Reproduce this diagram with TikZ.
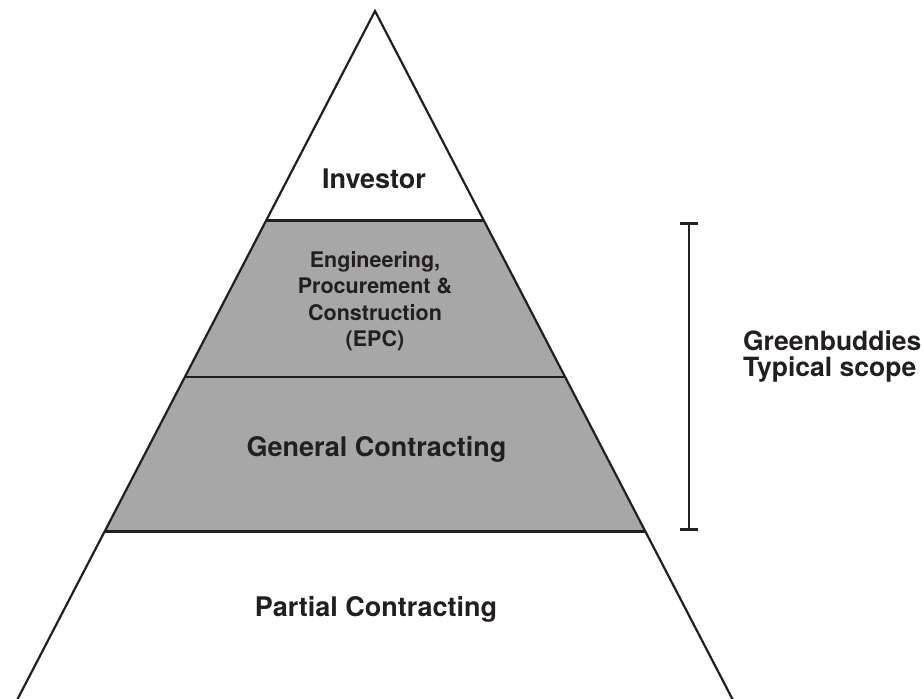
\documentclass[tikz,border=0pt]{standalone}
\usepackage{fontspec}
\setmainfont{TeX Gyre Heros}
\usepackage{xcolor}
\usetikzlibrary{calc}

\definecolor{ink}{HTML}{231F20}
\definecolor{band}{HTML}{A7A7A7}

\begin{document}
\begin{tikzpicture}[x=1pt, y=-1pt, line width=2.2pt, draw=ink]
		\useasboundingbox (0,0) rectangle (924,699);
		\clip (0,0) rectangle (924,699);

		\coordinate (T) at (375,11);
		\coordinate (BL) at (15,704);
		\coordinate (BR) at (735,704);

		% band edges on both sides
		\foreach \n/\f in {1/0.3022, 2/0.5278, 3/0.7512} {
				\coordinate (L\n) at ($(T)!\f!(BL)$);
				\coordinate (R\n) at ($(T)!\f!(BR)$);
			}

		\fill[band] (L1) -- (R1) -- (R3) -- (L3) -- cycle;
		\draw[line join=miter] (BL) -- (T) -- (BR);
		\foreach \n in {1,2,3} {
				\draw (L\n) -- (R\n);
			}

		\node[
			inner sep=0, anchor=base, text=ink,
			font=\fontsize{27}{30}\selectfont\bfseries
		] (I) at (374,188.3) {Investor};
		\node[
			inner sep=0, align=center, text=ink,
			font=\fontsize{21.5}{26.5}\selectfont\bfseries
		] (E) at (375,301) {Engineering,\\Procurement \&\\Construction\\(EPC)};
		\node[
			inner sep=0, anchor=base, text=ink,
			font=\fontsize{27}{30}\selectfont\bfseries
		] (G) at (376.5,456.7) {General Contracting};
		\node[
			inner sep=0, anchor=base, text=ink,
			font=\fontsize{27}{30}\selectfont\bfseries
		] (P) at (376,616.7) {Partial Contracting};

		% scope bracket
		\coordinate (S1) at (689,223.3);
		\coordinate (S2) at (689,529.3);
		\draw (S1) -- (S2);
		\draw[line width=3.2pt] ([xshift=-9]S1) -- ([xshift=9]S1);
		\draw[line width=3.2pt] ([xshift=-9]S2) -- ([xshift=9]S2);

		\node[
			inner sep=0, anchor=west, align=left, text=ink,
			font=\fontsize{26.5}{26.5}\selectfont\bfseries
		] (S) at (742,356.5) {Greenbuddies\\Typical scope};
	\end{tikzpicture}
\end{document}
